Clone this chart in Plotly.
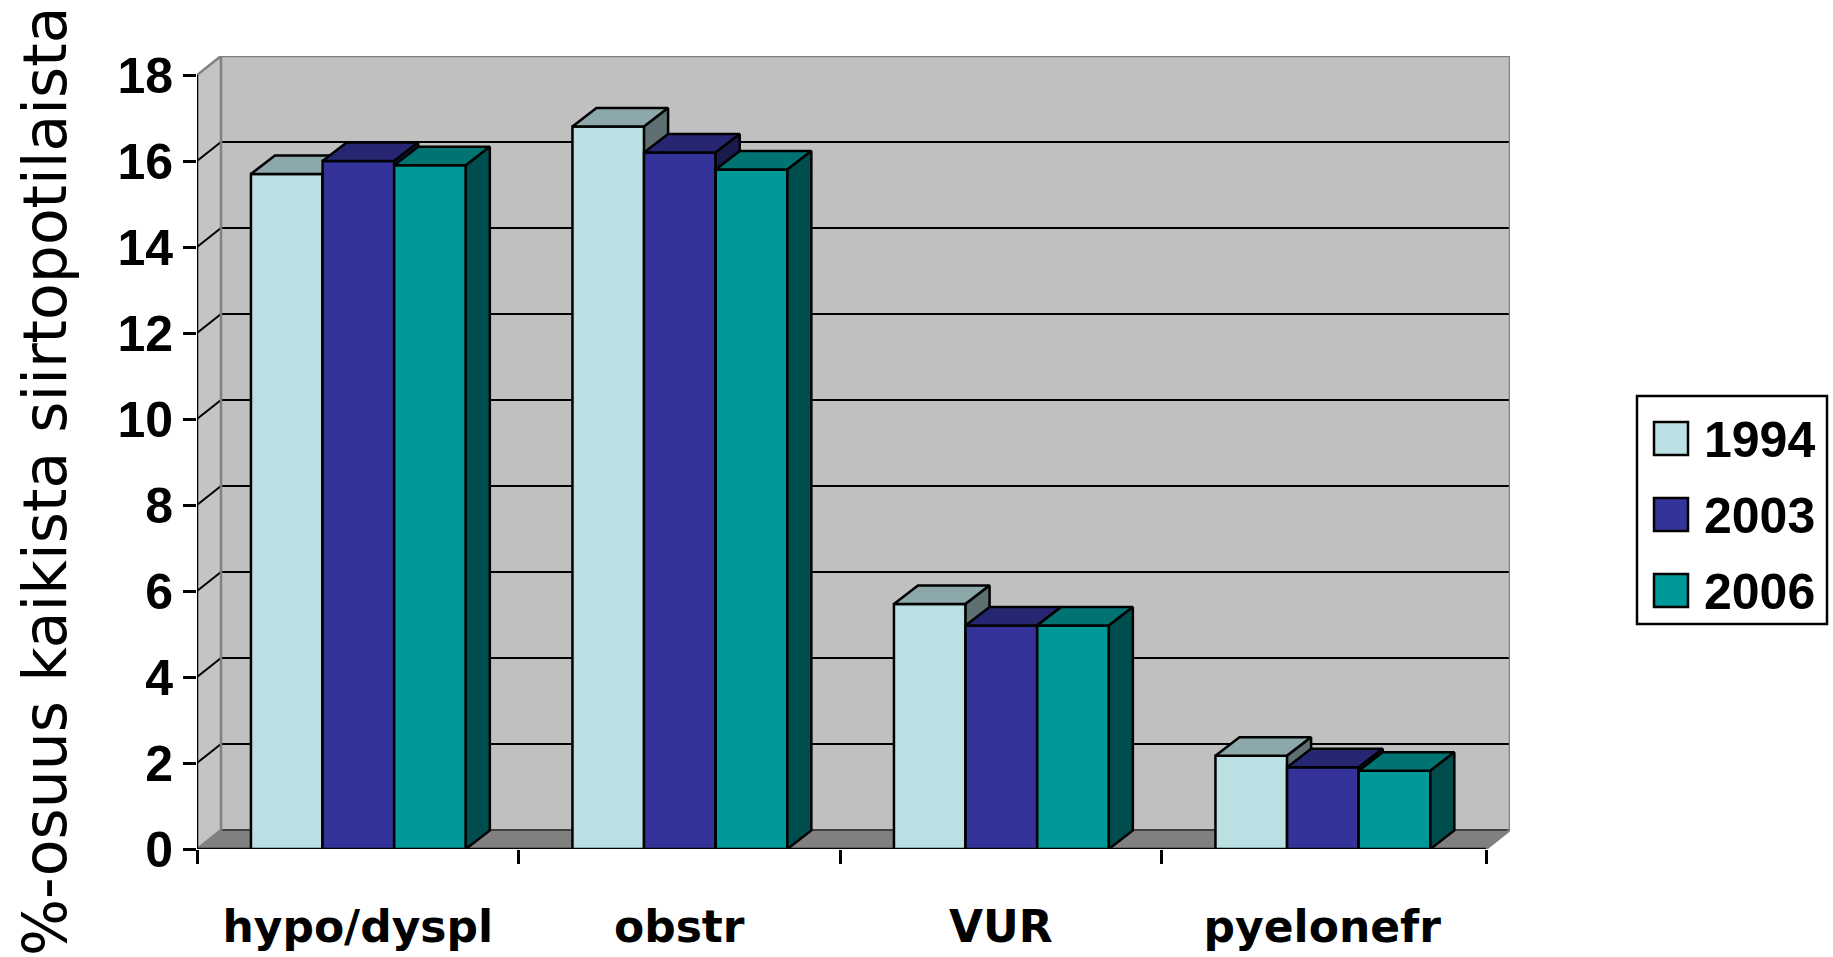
import plotly.graph_objects as go

categories = ["hypo/dyspl", "obstr", "VUR", "pyelonefr"]
years = ["1994", "2003", "2006"]
v1994 = [15.7, 16.8, 5.7, 2.17]
v2003 = [16.0, 16.2, 5.2, 1.9]
v2006 = [15.9, 15.8, 5.2, 1.82]
y_ticks = [0, 2, 4, 6, 8, 10, 12, 14, 16, 18]

series = [v1994, v2003, v2006]
front = ["#BBE0E3", "#333399", "#009999"]
top = ["#8CA8AA", "#262673", "#007373"]
side = ["#5E7072", "#1A1A4D", "#004D4D"]

W, H = 1833, 957
L, R, T, B = 197, 1510, 56, 849
DX = 24 / 321.5          # depth of the 3D box, in category units
DY = 19 / 43             # depth of the 3D box, in value units
BAR_DY = 18.5 / 43       # depth of a bar, in value units
BAR = 0.2228
SHIFT = 0.002            # small offset of the bar groups within a category
n = len(categories)
END = n + 0.0093         # right end of the floor
xr = [0, END + DX]
yr = [0, 18 + DY]

fig = go.Figure()


def poly(xs, ys, fill=None, line=None, lw=1.5, **kw):
    fig.add_trace(go.Scatter(
        x=xs, y=ys, mode="lines", showlegend=False, hoverinfo="skip", cliponaxis=False,
        fill="toself" if fill else None, fillcolor=fill,
        line=dict(color=line or "rgba(0,0,0,0)", width=lw), **kw))


# walls and floor
poly([0, DX, END + DX, END, 0], [0, DY, DY, 0, 0], fill="#808080")
poly([0, DX, DX, 0, 0], [0, DY, 18 + DY, 18, 0], fill="#C4C4C4")
poly([DX, END + DX, END + DX, DX, DX], [DY, DY, 18 + DY, 18 + DY, DY], fill="#C0C0C0")
# gridlines
for v in y_ticks[1:-1]:
    poly([0, DX, END + DX], [v, v + DY, v + DY], line="#000000", lw=2)
poly([DX, END + DX], [DY, DY], line="#404040", lw=2)
# wall edges
poly([0, DX, END + DX, END + DX, END], [18, 18 + DY, 18 + DY, DY, 0], line="#808080", lw=2.5)
poly([DX, DX, 0], [18 + DY, DY, 0], line="#808080", lw=2.5)
# axis lines, which stop at the front of the box
poly([0, 0, END], [18, 0, 0], line="#000000", lw=2.5)

# bars: one overlaid subplot per series so that later bars cover earlier ones
for s, vals in enumerate(series):
    k = str(s + 2)
    xa, ya = "x" + k, "y" + k
    centres = [c + 0.5 + SHIFT + (s - 1) * BAR for c in range(n)]
    fig.add_trace(go.Bar(x=centres, y=vals, width=BAR, name=years[s], xaxis=xa, yaxis=ya,
                         marker=dict(color=front[s], line=dict(color="#000000", width=2.5)),
                         showlegend=False))
    for c, v in zip(centres, vals):
        a, b = c - BAR / 2, c + BAR / 2
        poly([a, a + DX, b + DX, b, a], [v, v + BAR_DY, v + BAR_DY, v, v], fill=top[s],
             line="#000000", lw=2.5, xaxis=xa, yaxis=ya)
        poly([b, b + DX, b + DX, b, b], [0, BAR_DY, v + BAR_DY, v, 0], fill=side[s],
             line="#000000", lw=2.5, xaxis=xa, yaxis=ya)

tick_font = dict(family="Liberation Sans", size=50, color="#000000", weight="bold")
cat_font = dict(family="DejaVu Sans", size=44, color="#000000", weight="bold")

layout = dict(
    width=W, height=H, autosize=False, showlegend=False,
    paper_bgcolor="#FFFFFF", plot_bgcolor="rgba(0,0,0,0)", barmode="overlay",
    margin=dict(l=L, r=W - R, t=T, b=H - B, pad=0),
    xaxis=dict(range=xr, showgrid=False, zeroline=False, showline=False, automargin=False,
               tickmode="array", tickvals=[c + 0.5 for c in range(n)],
               ticktext=categories, ticks="", tickfont=cat_font, ticklabelstandoff=48,
               minor=dict(tickmode="array", tickvals=list(range(n)) + [END], ticks="outside",
                          ticklen=14, tickwidth=2.5, tickcolor="#000000", showgrid=False)),
    yaxis=dict(range=yr, showgrid=False, zeroline=False, showline=False, automargin=False,
               tickmode="array", tickvals=y_ticks, ticks="outside", ticklen=13,
               tickwidth=2.5, tickcolor="#000000", tickfont=tick_font, ticklabelstandoff=0),
)
for s in range(len(series)):
    k = str(s + 2)
    layout["xaxis" + k] = dict(range=xr, overlaying="x", visible=False, anchor="y" + k, automargin=False)
    layout["yaxis" + k] = dict(range=yr, overlaying="y", visible=False, anchor="x" + k, automargin=False)
fig.update_layout(**layout)

# y-axis title
fig.add_annotation(text="%-osuus kaikista siirtopotilaista", textangle=-90, xref="paper", yref="paper",
                   x=(45 - L) / (R - L), y=(B - 482) / (B - T), showarrow=False, xanchor="center",
                   yanchor="middle", font=dict(family="DejaVu Sans", size=60, color="#000000"))

# legend box
def px(v):
    return (v - L) / (R - L)


def py(v):
    return (B - v) / (B - T)


fig.add_shape(type="rect", xref="paper", yref="paper", x0=px(1637), x1=px(1827), y0=py(396), y1=py(624),
              line=dict(color="#000000", width=2.5), fillcolor="#FFFFFF")
for s, yr_name in enumerate(years):
    yc = 438.5 + 76 * s
    fig.add_shape(type="rect", xref="paper", yref="paper", x0=px(1654), x1=px(1688), y0=py(yc - 16.5),
                  y1=py(yc + 16.5), line=dict(color="#000000", width=2.5), fillcolor=front[s])
    fig.add_annotation(text=yr_name, xref="paper", yref="paper", x=px(1702), y=py(yc + 1), showarrow=False,
                       xanchor="left", yanchor="middle", font=tick_font)

fig.write_html("out.html", config={"displayModeBar": False},
               post_script="document.body.style.margin='0';document.body.style.overflow='hidden';")
